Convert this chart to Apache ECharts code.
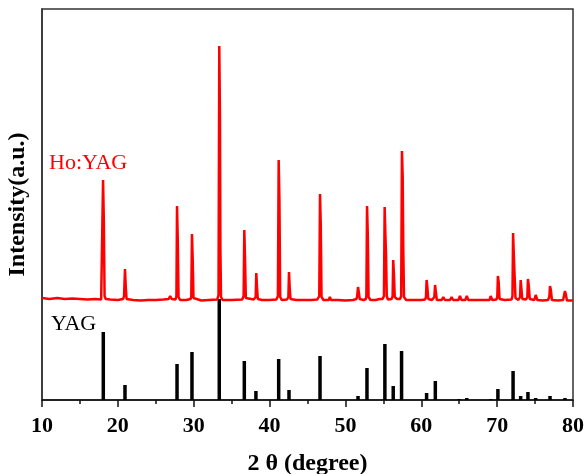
<!DOCTYPE html>
<html>
<head>
<meta charset="utf-8">
<script src="https://cdn.jsdelivr.net/npm/echarts@6/dist/echarts.min.js"></script>
<style>
  html, body { margin: 0; padding: 0; background: #fff; }
  #xrd { width: 586px; height: 474px; }
</style>
</head>
<body>
<div id="xrd"></div>
<script>
// measured Ho:YAG pattern, [2theta, intensity a.u.]
var hoYag = [
    [10.0,102],[11,101],[12,102],[13,101],[14,101.5],[15,101],[16,100.5],[17,101],[17.8,100.5],
    [17.95,102],[18.05,220],[18.15,180],[18.25,104],[18.4,101],
    [19,100.5],[20,100],[20.7,101],
    [20.82,104],[20.94,131],[21.05,112],[21.15,101],
    [22,100],[23,99.5],[24,100],[25,100],[26,100.5],[26.7,101],[26.9,104],[27.1,101],[27.6,100.5],
    [27.72,104],[27.8,194],[27.9,160],[28.0,103],[28.2,100],
    [29,100],[29.6,101],
    [29.68,104],[29.77,166],[29.87,140],[29.97,102],[30.2,100],
    [31,99.5],[32,100],[33.1,100.5],
    [33.27,105],[33.37,354],[33.46,285],[33.52,150],[33.6,103],[33.8,100],
    [35,100],[36.4,100.5],
    [36.58,104],[36.67,170],[36.77,140],[36.87,102],[37.1,100],
    [37.9,100.5],
    [38.17,103],[38.25,127],[38.35,112],[38.45,101],
    [39,100],[40,100],[40.9,100.5],
    [41.1,104],[41.2,240],[41.3,200],[41.4,103],[41.6,100],
    [42.3,100.5],
    [42.48,103],[42.56,128],[42.66,112],[42.76,101],
    [43.5,100],[44.5,100],[45.5,100],[46.3,100.5],
    [46.55,104],[46.65,206],[46.75,175],[46.85,103],[47.1,100],
    [47.8,100],[47.95,103],[48.1,100],[49,100],[50,99.5],[51,100],[51.45,101],
    [51.55,104],[51.66,113],[51.76,108],[51.88,101],
    [52.4,100],[52.7,101],
    [52.76,104],[52.85,194],[52.95,165],[53.05,103],[53.3,100],
    [54,100],[54.5,101],[54.9,101],
    [55.08,104],[55.17,193],[55.27,165],[55.35,147],[55.45,104],[55.6,100.5],[56.1,101],
    [56.22,104],[56.3,140],[56.4,125],[56.5,103],[56.8,101],[57.2,101],
    [57.35,104],[57.45,249],[57.55,223],[57.63,150],[57.72,103],[58,100],
    [59,100],[60,100],[60.5,100.5],
    [60.62,103],[60.7,120],[60.8,113],[60.92,101],
    [61.4,100],[61.65,101],
    [61.72,103],[61.82,115],[61.92,108],[62.05,100],
    [62.7,100],[62.9,103],[63.1,100],[63.8,100],[64.0,103],[64.2,100],[64.9,100],[65.1,104],[65.3,100],
    [65.8,100],[66.0,104],[66.2,100],[66.9,100],[67.1,102],[67.3,100],[68,100],[69,100],[69.15,104],[69.35,100],[69.9,100.5],
    [70.02,103],[70.1,124],[70.2,118],[70.32,101],
    [71,100],[71.9,100.5],
    [72.02,104],[72.1,167],[72.2,145],[72.3,125],[72.42,102],[72.8,100],
    [73.02,103],[73.1,120],[73.2,119],[73.32,101],[73.8,100.5],
    [73.98,103],[74.06,121],[74.16,115],[74.3,101],
    [74.9,100],[75.08,105],[75.3,100],[76,99.5],[76.7,100],
    [76.88,103],[76.97,114],[77.08,110],[77.22,100],
    [78,99.5],[78.7,100],
    [78.85,102],[78.94,109],[79.05,106],[79.2,99.5],[80,99.5]
];

// YAG reference lines, [2theta, relative intensity]
var yagRef = [
    [18.08,68],[20.94,15],[27.8,36],[29.77,48],[33.37,101],[36.67,39],[38.2,9],[41.2,41],
    [42.56,10],[46.65,44],[51.66,4],[52.84,32],[55.2,56],[56.3,14],[57.4,49],[60.7,7],
    [61.85,19],[64.97,1],[66.0,2],[69.15,1],[70.1,11],[72.1,29],[73.1,4],[74.06,8],
    [75.08,2],[76.97,4],[78.94,2]
];

var serif = "'Times New Roman', 'Liberation Serif', serif";

var chart = echarts.init(document.getElementById('xrd'));

var option = {
    animation: false,
    grid: {
        left: 42, right: 13, top: 9, bottom: 74,
        outerBoundsMode: 'none',
        containLabel: false,
        show: true,
        borderColor: '#333',
        borderWidth: 1.5
    },
    xAxis: {
        type: 'value',
        min: 10,
        max: 80,
        interval: 10,
        name: '2 θ (degree)',
        nameLocation: 'middle',
        nameGap: 52,
        nameTextStyle: { fontFamily: serif, fontWeight: 'bold', fontSize: 24, color: '#000' },
        axisLine: { lineStyle: { color: '#111', width: 1.5 } },
        axisTick: { inside: false, length: 7, lineStyle: { color: '#111', width: 1.5 } },
        minorTick: { show: true, splitNumber: 2, length: 4, lineStyle: { color: '#111', width: 1.5 } },
        axisLabel: { fontFamily: serif, fontWeight: 'bold', fontSize: 22, color: '#000', margin: 15 },
        splitLine: { show: false }
    },
    yAxis: {
        type: 'value',
        min: 0,
        max: 391,
        name: 'Intensity(a.u.)',
        nameLocation: 'middle',
        nameGap: 12,
        nameTextStyle: { fontFamily: serif, fontWeight: 'bold', fontSize: 24, color: '#000' },
        axisLine: { show: true, lineStyle: { color: '#333', width: 1.5 } },
        axisTick: { show: false },
        axisLabel: { show: false },
        splitLine: { show: false }
    },
    graphic: [
        {
            type: 'text', left: 49, top: 152,
            style: { text: 'Ho:YAG', fontFamily: serif, fontSize: 22, fill: '#ff0000' }
        },
        {
            type: 'text', left: 51, top: 313,
            style: { text: 'YAG', fontFamily: serif, fontSize: 22, fill: '#000' }
        }
    ],
    series: [
        {
            name: 'YAG',
            type: 'bar',
            barWidth: 3.5,
            itemStyle: { color: '#000' },
            data: yagRef
        },
        {
            name: 'Ho:YAG',
            type: 'line',
            showSymbol: false,
            lineStyle: { color: '#ff0000', width: 2.5 },
            data: hoYag
        }
    ]
};

chart.setOption(option);
</script>
</body>
</html>
